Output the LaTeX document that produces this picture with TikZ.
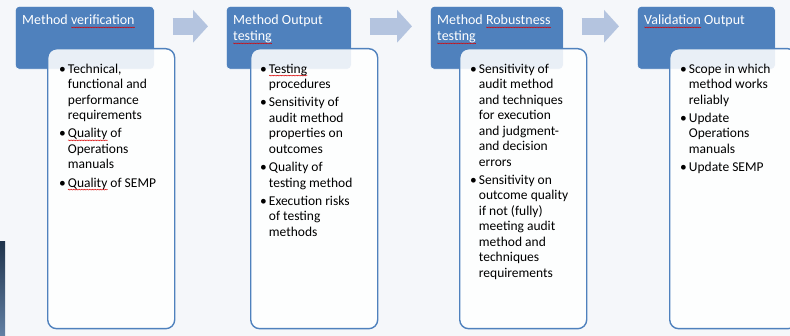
\documentclass[tikz,border=0pt]{standalone}
\usepackage{fontspec}
\setmainfont{Carlito}
\usetikzlibrary{arrows.meta,positioning,calc,decorations.pathmorphing}

\definecolor{hdrblue}{HTML}{4F81BD}
\definecolor{flowblue}{HTML}{B4C4DF}
\definecolor{pagebg}{HTML}{F5F7FA}

% red spell-check wave under a word
\newsavebox\spellbox
\newcommand\spellmark[1]{\sbox\spellbox{#1}\rlap{\tikz[baseline=0pt,x=1pt,y=1pt]
  \draw[red!85!black,line width=0.35pt,fill opacity=1,decorate,
    decoration={zigzag,amplitude=0.45pt,segment length=1.6pt}]
    (0,-2.5) -- (\the\wd\spellbox,-2.5);}\usebox\spellbox}
\newcommand\hdrlines[1]{\begin{tabular}{@{}l@{}}#1\end{tabular}}
\newcommand\bulletlist[1]{\begin{tabular}{@{}l@{\hspace{2pt}}l@{}}#1\end{tabular}}

\begin{document}
\begin{tikzpicture}[x=1pt,y=-1pt,
  header/.style={draw=white, line width=0.6pt, fill=hdrblue, rounded corners=4pt,
    minimum width=#1, minimum height=63pt, anchor=north west, inner sep=0pt},
  body/.style={draw=hdrblue, line width=1.4pt, fill=white, fill opacity=0.88,
    rounded corners=9pt, minimum width=127pt, minimum height=280pt,
    anchor=north west, inner sep=0pt},
  headtext/.style={anchor=north west, inner sep=0pt, text=white,
    font=\fontsize{14}{16}\selectfont},
  itemtext/.style={anchor=north west, inner sep=0pt,
    font=\fontsize{13.5}{15.5}\selectfont},
  flow/.style={draw=flowblue, line width=17pt, -{Triangle[length=15pt,width=32pt]}}]

  \useasboundingbox (0,0) rectangle (790,336);
  \clip (0,0) rectangle (790,336);
  \fill[pagebg] (0,0) rectangle (790,336);
  \shade[top color=black!60!hdrblue, bottom color=hdrblue!60!gray] (0,242) rectangle (5,336);

  % Headers
  \node[header=139pt] (h1) at (15,6) {};
  \node[header=125pt] (h2) at (226,6) {};
  \node[header=133pt] (h3) at (430,6) {};
  \node[header=138pt] (h4) at (637,6) {};

  \node[headtext] (t1) at ($(h1.north west)+(7,7.5)$) {\hdrlines{Method \spellmark{verification}}};
  \node[headtext] (t2) at ($(h2.north west)+(7,7.5)$) {\hdrlines{Method Output\\ \spellmark{testing}}};
  \node[headtext] (t3) at ($(h3.north west)+(7,7.5)$) {\hdrlines{Method \spellmark{Robustness}\\ \spellmark{testing}}};
  \node[headtext] (t4) at ($(h4.north west)+(7,7.5)$) {\hdrlines{\spellmark{Validation} Output}};

  % Arrows
  \draw[flow] ($(h1.east)+(18,-11.5)$) -- ($(h2.west)+(-18,-11.5)$);
  \draw[flow] ($(h2.east)+(18,-11.5)$) -- ($(h3.west)+(-18,-11.5)$);
  \draw[flow] ($(h3.east)+(18,-11.5)$) -- ($(h4.west)+(-18,-11.5)$);

  % Bodies
  \node[body] (b1) at (47,48) {};
  \node[body] (b2) at (250,48) {};
  \node[body] (b3) at (459,48) {};
  \node[body] (b4) at (669,48) {};

  \node[itemtext] (l1) at ($(b1.north west)+(12,14)$) {\bulletlist{%
    \textbullet & Technical,\\ & functional and\\ & performance\\ & requirements\\[2.8pt]
    \textbullet & \spellmark{Quality} of\\ & Operations\\ & manuals\\[2.8pt]
    \textbullet & \spellmark{Quality} of SEMP}};
  \node[itemtext] (l2) at ($(b2.north west)+(10,14)$) {\bulletlist{%
    \textbullet & \spellmark{Testing}\\ & procedures\\[2.8pt]
    \textbullet & Sensitivity of\\ & audit method\\ & properties on\\ & outcomes\\[2.8pt]
    \textbullet & Quality of\\ & testing method\\[2.8pt]
    \textbullet & Execution risks\\ & of testing\\ & methods}};
  \node[itemtext] (l3) at ($(b3.north west)+(11,14)$) {\bulletlist{%
    \textbullet & Sensitivity of\\ & audit method\\ & and techniques\\ & for execution\\
      & and judgment-\\ & and decision\\ & errors\\[2.8pt]
    \textbullet & Sensitivity on\\ & outcome quality\\ & if not (fully)\\ & meeting audit\\
      & method and\\ & techniques\\ & requirements}};
  \node[itemtext] (l4) at ($(b4.north west)+(11,14)$) {\bulletlist{%
    \textbullet & Scope in which\\ & method works\\ & reliably\\[2.8pt]
    \textbullet & Update\\ & Operations\\ & manuals\\[2.8pt]
    \textbullet & Update SEMP}};

\end{tikzpicture}
\end{document}
